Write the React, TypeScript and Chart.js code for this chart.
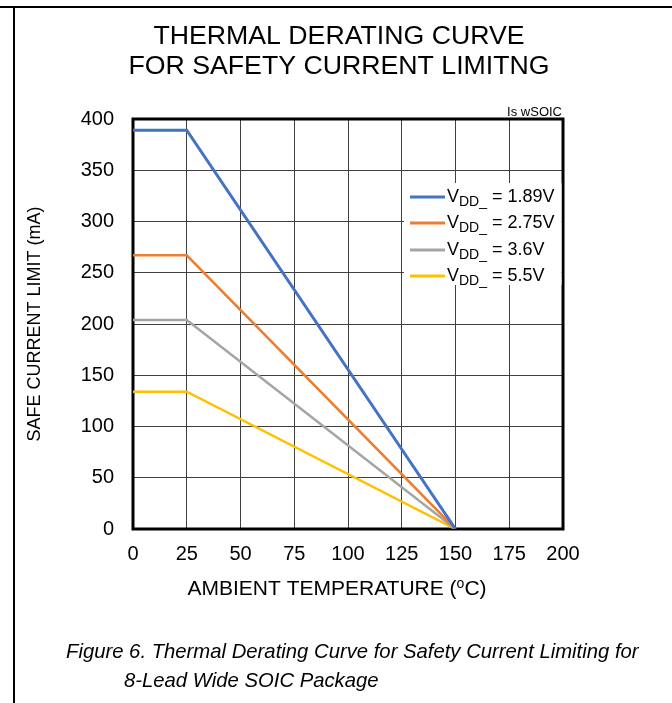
import React, { useEffect, useRef } from "react";
import { Chart, registerables } from "chart.js";

Chart.register(...registerables);

const temperatures = [0, 25, 150];
const vdd189 = [389, 389, 0];
const vdd275 = [267, 267, 0];
const vdd36 = [204, 204, 0];
const vdd55 = [134, 134, 0];
const seriesLabels = ["1.89V", "2.75V", "3.6V", "5.5V"];
const seriesColors = ["#4472C4", "#ED7D31", "#A5A5A5", "#FFC000"];
const seriesWidths = [3, 2.5, 2.5, 2.5];
const xTicks = [0, 25, 50, 75, 100, 125, 150, 175, 200];
const yTicks = [0, 50, 100, 150, 200, 250, 300, 350, 400];
const titleLines = ["THERMAL DERATING CURVE", "FOR SAFETY CURRENT LIMITNG"];
const captionLines = [
  "Figure 6. Thermal Derating Curve for Safety Current Limiting for",
  "8-Lead Wide SOIC Package",
];
const FONT = "'Liberation Sans', Arial, sans-serif";

const decorPlugin = {
  id: "decor",
  beforeDatasetsDraw(chart: any) {
    const { ctx, chartArea: a } = chart;
    ctx.save();
    ctx.strokeStyle = "#000";
    ctx.lineWidth = 3;
    ctx.strokeRect(a.left, a.top, a.right - a.left, a.bottom - a.top);
    ctx.restore();
  },
  afterDraw(chart: any) {
    const { ctx, chartArea: a } = chart;
    ctx.save();
    // frame lines
    ctx.strokeStyle = "#000";
    ctx.lineWidth = 2;
    ctx.beginPath();
    ctx.moveTo(0, 7);
    ctx.lineTo(672, 7);
    ctx.moveTo(14, 7);
    ctx.lineTo(14, 703);
    ctx.stroke();

    ctx.fillStyle = "#000";
    ctx.textAlign = "center";
    ctx.textBaseline = "middle";
    ctx.font = `26.7px ${FONT}`;
    ctx.fillText(titleLines[0], 339, 37);
    ctx.fillText(titleLines[1], 339, 67);

    ctx.font = `13px ${FONT}`;
    ctx.textAlign = "right";
    ctx.fillText("Is wSOIC", a.right - 1, 112);

    // y title
    ctx.save();
    ctx.translate(35, (a.top + a.bottom) / 2);
    ctx.rotate(-Math.PI / 2);
    ctx.textAlign = "center";
    ctx.font = `18px ${FONT}`;
    ctx.fillText("SAFE CURRENT LIMIT (mA)", 0, 0);
    ctx.restore();

    // x title with superscript
    const p1 = "AMBIENT TEMPERATURE (";
    const p3 = "C)";
    ctx.font = `21px ${FONT}`;
    const w1 = ctx.measureText(p1).width;
    const w3 = ctx.measureText(p3).width;
    ctx.font = `14px ${FONT}`;
    const w2 = ctx.measureText("o").width;
    const total = w1 + w2 + w3;
    let x = 337 - total / 2;
    const y = 589;
    ctx.textAlign = "left";
    ctx.font = `21px ${FONT}`;
    ctx.fillText(p1, x, y);
    x += w1;
    ctx.font = `14px ${FONT}`;
    ctx.fillText("o", x, y - 5);
    x += w2;
    ctx.font = `21px ${FONT}`;
    ctx.fillText(p3, x, y);

    // caption
    ctx.font = `italic 20.3px ${FONT}`;
    ctx.textAlign = "left";
    ctx.fillText(captionLines[0], 66, 652);
    ctx.fillText(captionLines[1], 124, 681);

    // legend
    ctx.fillStyle = "#fff";
    ctx.fillRect(404, 183, a.right - 1.5 - 404, 102);
    const rowY = [197, 223, 250, 276];
    seriesLabels.forEach((lab, i) => {
      const ry = rowY[i];
      ctx.strokeStyle = seriesColors[i];
      ctx.lineWidth = 3;
      ctx.beginPath();
      ctx.moveTo(410, ry);
      ctx.lineTo(445, ry);
      ctx.stroke();
      ctx.fillStyle = "#000";
      ctx.textAlign = "left";
      let tx = 447;
      ctx.font = `18px ${FONT}`;
      ctx.fillText("V", tx, ry);
      tx += ctx.measureText("V").width;
      ctx.font = `14px ${FONT}`;
      ctx.fillText("DD_", tx, ry + 5);
      tx += ctx.measureText("DD_").width;
      ctx.font = `18px ${FONT}`;
      ctx.fillText(" = " + lab, tx, ry);
    });
    ctx.restore();
  },
};

export default function App() {
  const ref = useRef<HTMLCanvasElement | null>(null);
  useEffect(() => {
    document.body.style.margin = "0";
    const canvas = ref.current!;
    const mk = (vals: number[]) => temperatures.map((t, i) => ({ x: t, y: vals[i] }));
    const all = [vdd189, vdd275, vdd36, vdd55];
    const chart = new Chart(canvas, {
      type: "line",
      data: {
        datasets: all.map((vals, i) => ({
          label: "VDD_ = " + seriesLabels[i],
          data: mk(vals),
          borderColor: seriesColors[i],
          backgroundColor: seriesColors[i],
          borderWidth: seriesWidths[i],
          pointRadius: 0,
          tension: 0,
        })),
      },
      options: {
        animation: false,
        responsive: false,
        devicePixelRatio: 1,
        layout: { padding: { left: 0, top: 119, right: 672 - 563, bottom: 0 } },
        plugins: { legend: { display: false }, tooltip: { enabled: false }, title: { display: false } },
        scales: {
          x: {
            type: "linear",
            min: 0,
            max: 200,
            afterBuildTicks: (s: any) => {
              s.ticks = xTicks.map((v) => ({ value: v }));
            },
            afterFit: (s: any) => {
              s.height = 703 - 529;
            },
            ticks: { color: "#000", font: { size: 20, family: FONT }, padding: 13, maxRotation: 0 },
            grid: { color: "#404040", lineWidth: 1, drawTicks: false },
            border: { display: false },
          },
          y: {
            type: "linear",
            min: 0,
            max: 400,
            afterBuildTicks: (s: any) => {
              s.ticks = yTicks.map((v) => ({ value: v }));
            },
            afterFit: (s: any) => {
              s.width = 133;
            },
            ticks: { color: "#000", font: { size: 20, family: FONT }, padding: 19 },
            grid: { color: "#404040", lineWidth: 1, drawTicks: false },
            border: { display: false },
          },
        },
      },
      plugins: [decorPlugin],
    });
    return () => chart.destroy();
  }, []);
  return (
    <canvas
      ref={ref}
      width={672}
      height={703}
      style={{ position: "fixed", left: 0, top: 0, width: 672, height: 703 }}
    />
  );
}
